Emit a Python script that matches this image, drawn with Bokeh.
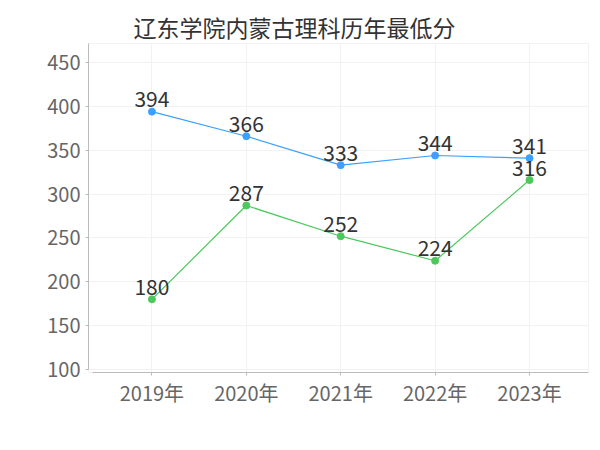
from bokeh.plotting import figure
from bokeh.models import ColumnDataSource, LabelSet, FixedTicker, Range1d, Legend, LegendItem
from bokeh.core.properties import value
from bokeh.embed import file_html
from bokeh.resources import INLINE

years = ["2019年", "2020年", "2021年", "2022年", "2023年"]
benke2 = [394, 366, 333, 344, 341]
zhuanke = [180, 287, 252, 224, 316]
series_names = ["本科二批", "专科批"]
y_ticks = [100, 150, 200, 250, 300, 350, 400, 450]
title_text = "辽东学院内蒙古理科历年最低分"

FONT = "Noto Sans CJK SC"
BLUE = "#3ba1ff"
GREEN = "#4cc85c"

xs = list(range(len(years)))

p = figure(width=596, height=450, frame_width=500, frame_height=329,
           output_backend="svg", toolbar_location=None,
           x_range=Range1d(-0.672, 4.625), y_range=Range1d(96.6, 471.7),
           min_border_left=88, min_border_right=8, min_border_bottom=0, min_border_top=43)

p.title.text = title_text
p.title.align = "left"
p.title.offset = 45
p.title.standoff = 0
p.title.text_font = FONT
p.title.text_font_size = "23px"
p.title.text_font_style = "normal"
p.title.text_color = "#333333"

p.outline_line_color = "#f2f2f2"
p.background_fill_color = "white"
p.border_fill_color = "white"

# grids
p.xgrid.ticker = FixedTicker(ticks=xs)
p.ygrid.ticker = FixedTicker(ticks=y_ticks)
p.xgrid.grid_line_color = "#f2f2f2"
p.ygrid.grid_line_color = "#f2f2f2"

# axes
p.xaxis.ticker = FixedTicker(ticks=xs)
p.xaxis.major_label_overrides = {i: y for i, y in enumerate(years)}
p.xaxis.bounds = (-0.63, 4.625)
p.yaxis.ticker = FixedTicker(ticks=y_ticks)
p.yaxis.bounds = (100, 471.7)
for ax in (p.xaxis[0], p.yaxis[0]):
    ax.axis_line_color = "#bbbbbb"
    ax.major_tick_line_color = "#bbbbbb"
    ax.major_tick_in = 0
    ax.major_tick_out = 3
    ax.minor_tick_line_color = None
    ax.major_label_text_font = FONT
    ax.major_label_text_font_size = "20px"
    ax.major_label_text_color = "#666666"
p.yaxis.major_label_standoff = 5
p.xaxis.major_label_standoff = 2

src1 = ColumnDataSource(dict(x=xs, y=benke2, t=[str(v) for v in benke2]))
src2 = ColumnDataSource(dict(x=xs, y=zhuanke, t=[str(v) for v in zhuanke]))

l1 = p.line("x", "y", source=src1, line_color=BLUE, line_width=1.2)
c1 = p.scatter("x", "y", source=src1, size=7, fill_color=BLUE, line_color=BLUE)
l2 = p.line("x", "y", source=src2, line_color=GREEN, line_width=1.2)
c2 = p.scatter("x", "y", source=src2, size=7, fill_color=GREEN, line_color=GREEN)

for src in (src1, src2):
    lbl = LabelSet(x="x", y="y", text="t", source=src, text_align="center",
                   text_baseline="alphabetic", y_offset=4.5, text_font=value(FONT),
                   text_font_size=value("21px"), text_color=value("#333333"))
    p.add_layout(lbl)

legend = Legend(items=[LegendItem(label=series_names[0], renderers=[l1, c1]),
                       LegendItem(label=series_names[1], renderers=[l2, c2])],
                orientation="horizontal", location=(113, 4),
                label_text_font=FONT, label_text_font_size="22px",
                label_text_color="#333333", glyph_width=16, glyph_height=30,
                label_standoff=2, spacing=9, padding=0, margin=0,
                border_line_color=None, background_fill_alpha=0)
p.add_layout(legend, "below")

open("out.html", "w").write(file_html(p, INLINE))
